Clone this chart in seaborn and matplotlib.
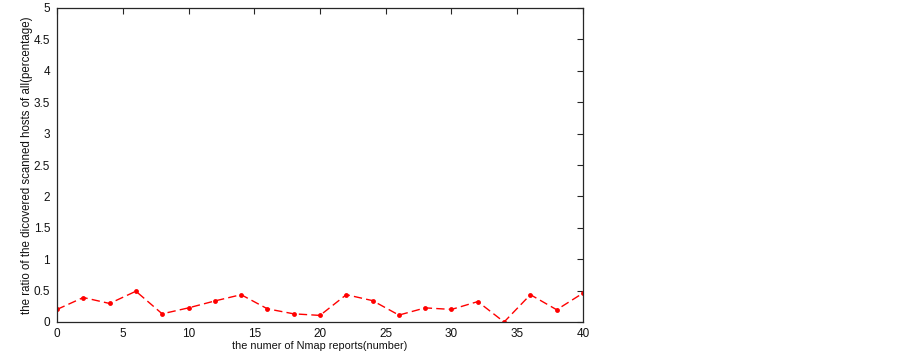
import matplotlib
matplotlib.use("Agg")
import matplotlib.pyplot as plt
import seaborn as sns
import pandas as pd

reports = [0, 2, 4, 6, 8, 10, 12, 14, 16, 18, 20, 22, 24, 26, 28, 30, 32, 34, 36, 38, 40]
ratio = [0.20, 0.39, 0.295, 0.49, 0.13, 0.225, 0.335, 0.435, 0.21, 0.13, 0.105, 0.435, 0.34,
         0.11, 0.225, 0.20, 0.325, 0.0, 0.435, 0.195, 0.46]
xticks = [0, 5, 10, 15, 20, 25, 30, 35, 40]
yticks = [0, 0.5, 1, 1.5, 2, 2.5, 3, 3.5, 4, 4.5, 5]
ytick_labels = ["0", "0.5", "1", "1.5", "2", "2.5", "3", "3.5", "4", "4.5", "5"]

sns.set_style("white")
plt.rcParams['font.family'] = ['Liberation Sans', 'DejaVu Sans']

df = pd.DataFrame({"x": reports, "y": ratio})
fig = plt.figure(figsize=(9.03, 3.60), dpi=100)
ax = fig.add_axes([57/903, 38/360, (583-57)/903, (322-8)/360])
sns.lineplot(data=df, x="x", y="y", ax=ax, color="#ff0000", linestyle=(0, (6, 3)),
             linewidth=1.0, marker="o", markersize=3.5, markeredgewidth=0, markerfacecolor="#ff0000")
ax.set_xlim(0, 40)
ax.set_ylim(0, 5)
ax.set_xticks(xticks)
ax.set_yticks(yticks)
ax.set_yticklabels(ytick_labels)
ax.tick_params(direction="in", length=4, width=0.8, labelsize=8.5, top=True, right=True,
               colors="#262626", labelcolor="#111111")
ax.tick_params(axis="x", pad=4)
ax.tick_params(axis="y", pad=5)
for s in ax.spines.values():
    s.set_visible(True)
    s.set_color("#262626")
    s.set_linewidth(0.9)
ax.set_xlabel("the numer of Nmap reports(number)", fontsize=7.8, labelpad=1, color="#111111")
ax.set_ylabel("the ratio of the dicovered scanned hosts of all(percentage)", fontsize=8.3,
              labelpad=0.5, color="#111111")
fig.savefig("out.png", dpi=100)
